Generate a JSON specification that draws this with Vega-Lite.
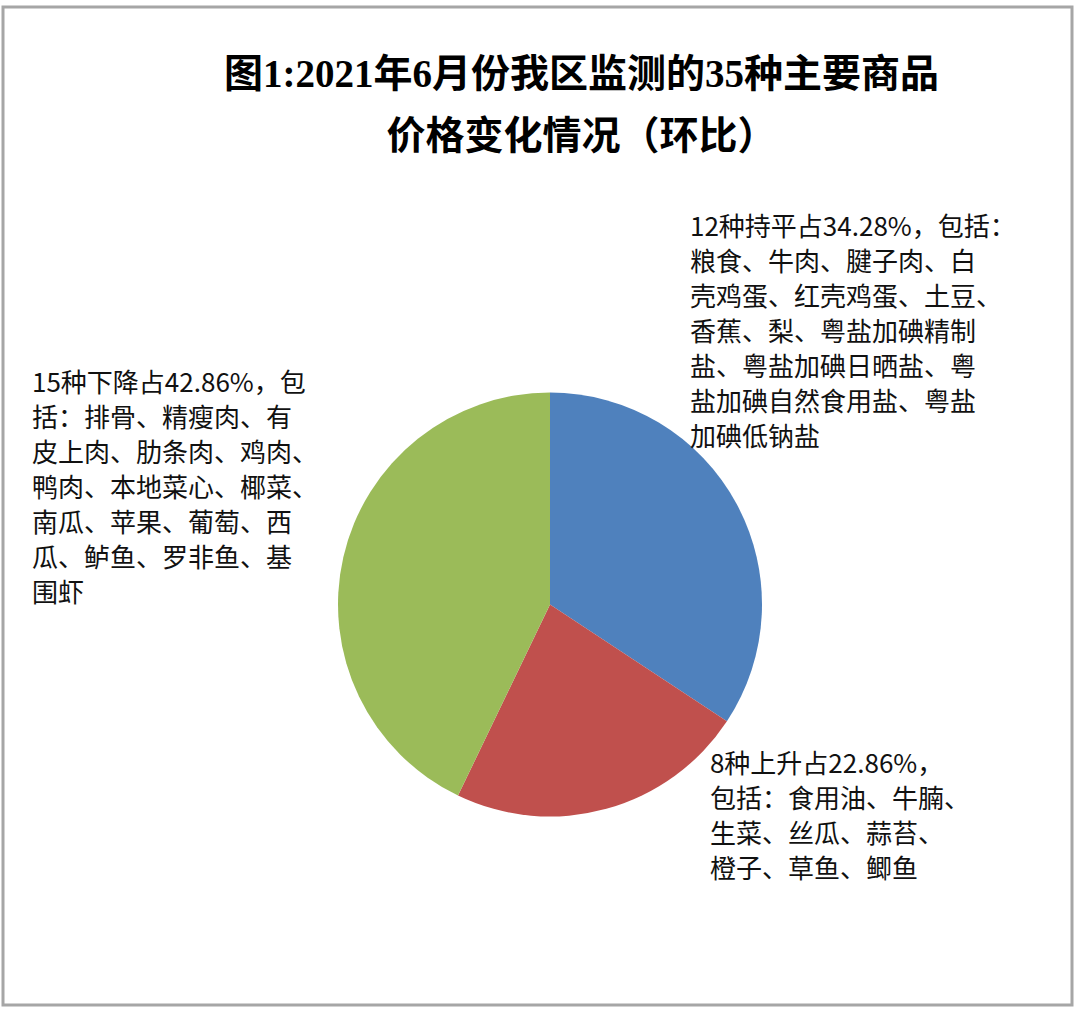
{
  "$schema": "https://vega.github.io/schema/vega-lite/v6.json",
  "autosize": "none",
  "width": 1069,
  "height": 998,
  "padding": {"left": 3, "top": 7, "right": 8, "bottom": 10},
  "background": "white",
  "view": {"stroke": "#a6a6a6", "strokeWidth": 3, "fill": "white"},
  "title": {
    "text": ["图1:2021年6月份我区监测的35种主要商品", "价格变化情况（环比）"],
    "font": "Liberation Serif, Noto Sans CJK SC",
    "fontSize": 39,
    "fontWeight": "bold",
    "lineHeight": 62,
    "color": "#000000",
    "anchor": "middle",
    "frame": "group",
    "offset": -150,
    "dx": 44
  },
  "data": {
    "values": [
      {"category": "持平", "count": 12, "order": 1, "label": "12种持平占34.28%，包括：\n粮食、牛肉、腱子肉、白\n壳鸡蛋、红壳鸡蛋、土豆、\n香蕉、梨、粤盐加碘精制\n盐、粤盐加碘日晒盐、粤\n盐加碘自然食用盐、粤盐\n加碘低钠盐"},
      {"category": "上升", "count": 8, "order": 2, "label": "8种上升占22.86%，\n包括：食用油、牛腩、\n生菜、丝瓜、蒜苔、\n橙子、草鱼、鲫鱼"},
      {"category": "下降", "count": 15, "order": 3, "label": "15种下降占42.86%，包\n括：排骨、精瘦肉、有\n皮上肉、肋条肉、鸡肉、\n鸭肉、本地菜心、椰菜、\n南瓜、苹果、葡萄、西\n瓜、鲈鱼、罗非鱼、基\n围虾"}
    ]
  },
  "transform": [
    {"stack": "count", "groupby": [], "sort": [{"field": "order", "order": "ascending"}], "as": ["s0", "s1"]}
  ],
  "layer": [
    {
      "mark": {"type": "arc", "outerRadius": 212, "xOffset": 12.5, "yOffset": 98.5},
      "encoding": {
        "theta": {"field": "s0", "type": "quantitative", "scale": {"domain": [0, 35]}},
        "theta2": {"field": "s1"},
        "color": {"field": "category", "type": "nominal", "scale": {"domain": ["持平", "上升", "下降"], "range": ["#4F81BD", "#C0504D", "#9BBB59"]}, "legend": null}
      }
    },
    {
      "transform": [{"filter": "datum.category === '持平'"}],
      "mark": {"type": "text", "radius": 212, "xOffset": 12.5, "yOffset": 98.5, "dx": 140, "dy": -178, "align": "left", "baseline": "top", "lineBreak": "\n", "lineHeight": 35, "fontSize": 26, "font": "Noto Sans CJK SC", "color": "#111111"},
      "encoding": {
        "theta": {"field": "s0", "type": "quantitative", "stack": null, "scale": {"domain": [0, 35]}},
        "text": {"field": "label", "type": "nominal"}
      }
    },
    {
      "transform": [{"filter": "datum.category === '上升'"}],
      "mark": {"type": "text", "radius": 212, "xOffset": 12.5, "yOffset": 98.5, "dx": -17, "dy": 31, "align": "left", "baseline": "top", "lineBreak": "\n", "lineHeight": 35, "fontSize": 26, "font": "Noto Sans CJK SC", "color": "#111111"},
      "encoding": {
        "theta": {"field": "s0", "type": "quantitative", "stack": null, "scale": {"domain": [0, 35]}},
        "text": {"field": "label", "type": "nominal"}
      }
    },
    {
      "transform": [{"filter": "datum.category === '下降'"}],
      "mark": {"type": "text", "radius": 212, "xOffset": 12.5, "yOffset": 98.5, "dx": -518, "dy": -22, "align": "left", "baseline": "top", "lineBreak": "\n", "lineHeight": 35, "fontSize": 26, "font": "Noto Sans CJK SC", "color": "#111111"},
      "encoding": {
        "theta": {"field": "s1", "type": "quantitative", "stack": null, "scale": {"domain": [0, 35]}},
        "text": {"field": "label", "type": "nominal"}
      }
    }
  ]
}
